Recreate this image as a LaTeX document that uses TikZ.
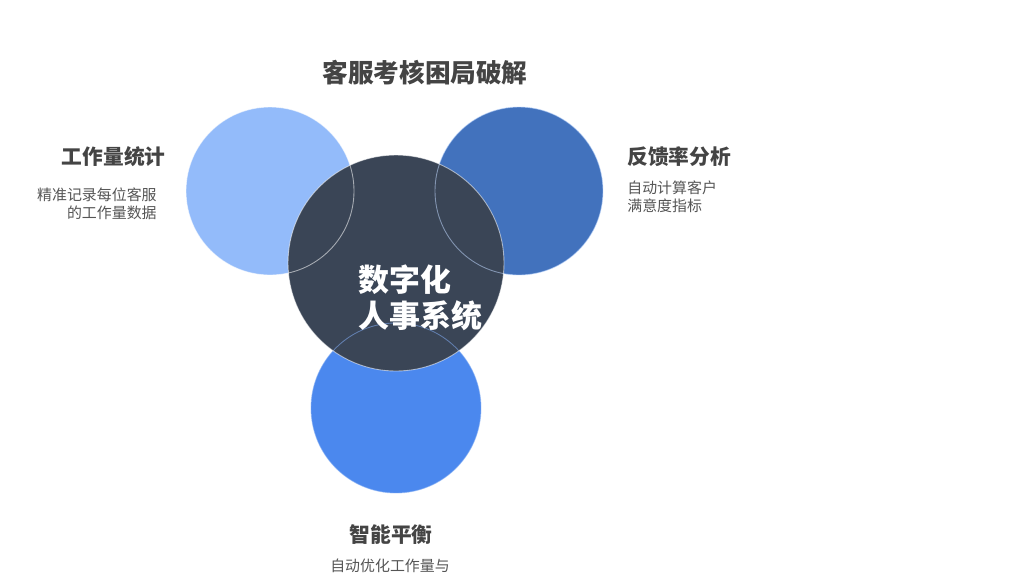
\documentclass[tikz,border=0pt]{standalone}
\usepackage{fontspec}
\setmainfont{Noto Sans CJK SC}
\usetikzlibrary{positioning}
\definecolor{lightblue}{HTML}{93BBFA}
\definecolor{darkblue}{HTML}{4272BD}
\definecolor{slate}{HTML}{3A4556}
\definecolor{midblue}{HTML}{4B88EE}
\definecolor{headgray}{HTML}{444444}
\definecolor{descgray}{HTML}{555555}

\begin{document}
\begin{tikzpicture}[x=0.02cm, y=-0.02cm,
    bubble/.style={circle, inner sep=0pt},
    rim/.style={draw=white, draw opacity=0.55, line width=0.5pt},
    heading/.style={font=\bfseries\fontsize{11.8}{14}\selectfont, text=headgray, inner sep=0pt},
    desc/.style={font=\fontsize{8.5}{10.6}\selectfont, text=descgray, inner sep=0pt}]
    \useasboundingbox (0,0) rectangle (1024,576);
        % circles
        \node[bubble, fill=lightblue, minimum size=3.36cm] (work) at (270,191) {};
        \node[bubble, fill=darkblue, minimum size=3.36cm] (feedback) at (519,191) {};
        \node[bubble, fill=midblue, minimum size=3.4cm] (balance) at (396,408) {};
        \node[bubble, fill=slate, minimum size=4.32cm] (hr) at (396,263) {};
        \draw[rim] (work.center) circle (84);
        \draw[rim, draw=lightblue!60!white] (feedback.center) circle (84);
        \draw[rim, draw=midblue!70!white] (balance.center) circle (85);
        \draw[rim] (hr.center) circle (108);
        \node[anchor=west, align=left, text=white, inner sep=0pt,
              font=\bfseries\fontsize{17.6}{20.5}\selectfont] (hrtext) at (358,298) {数字化\\人事系统};
        % title
        \node[font=\bfseries\fontsize{14.6}{17}\selectfont, text=headgray, inner sep=0pt] (title) at (425,73) {客服考核困局破解};
        % labels
        \node[heading, anchor=east] (workhead) at (166,157) {工作量统计};
        \node[desc, anchor=north east, align=right] (workdesc) at (157,187) {精准记录每位客服\\的工作量数据};
        \node[heading, anchor=west] (feedhead) at (627,157) {反馈率分析};
        \node[desc, anchor=north west, align=left] (feeddesc) at (627,180) {自动计算客户\\满意度指标};
        \node[heading] (balhead) at (391,535) {智能平衡};
        \node[desc] (baldesc) at (390,566) {自动优化工作量与};
    \end{tikzpicture}
\end{document}
